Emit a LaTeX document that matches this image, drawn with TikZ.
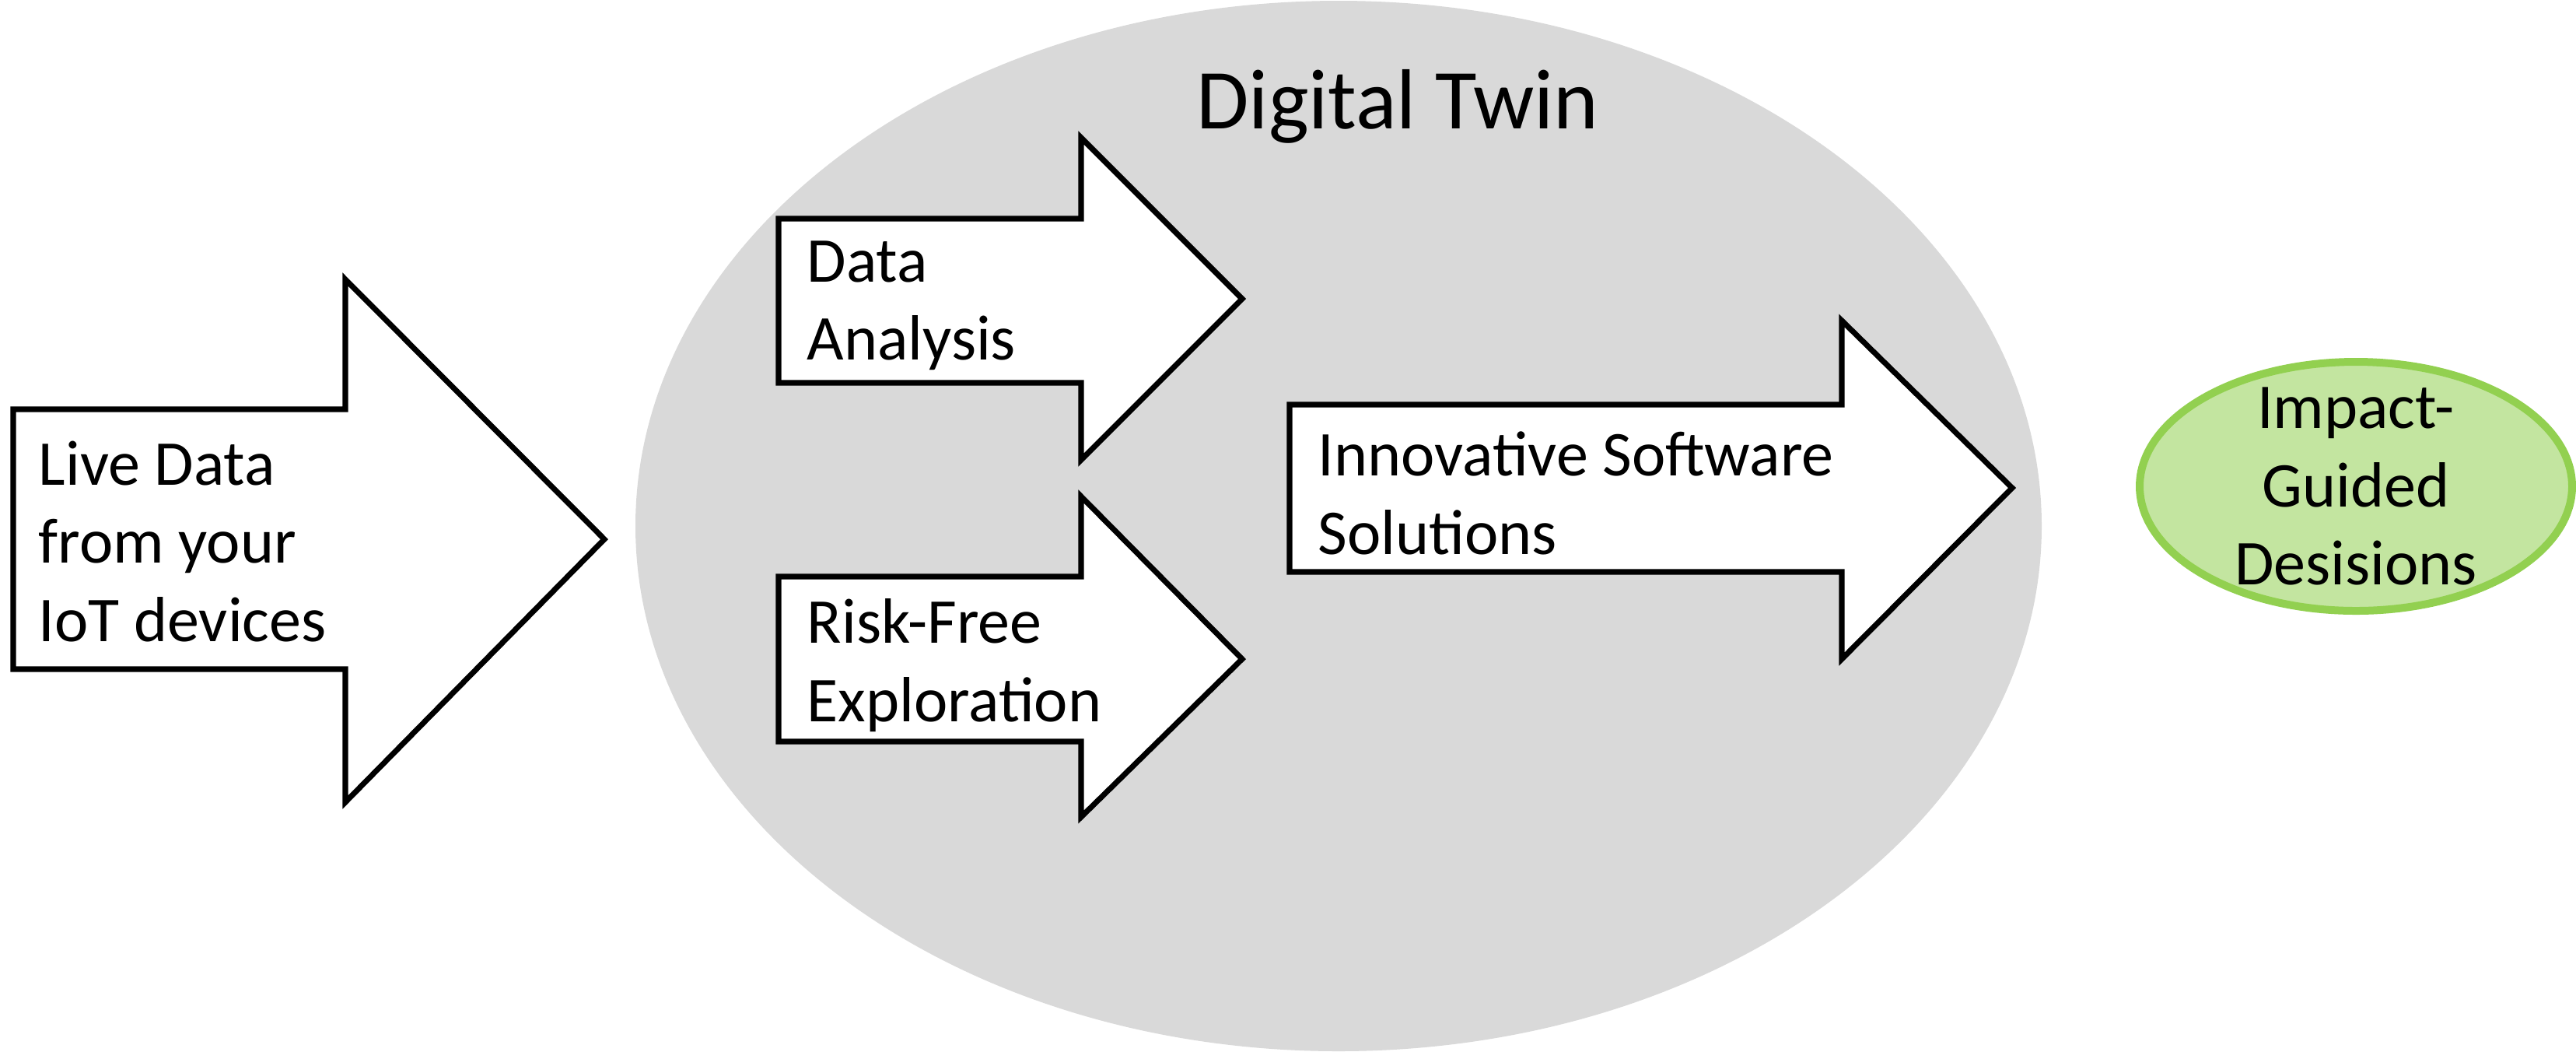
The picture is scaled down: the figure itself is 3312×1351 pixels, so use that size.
\documentclass[tikz,border=0pt]{standalone}
\usepackage{fontspec}
\setmainfont{Carlito}
\definecolor{twingrey}{HTML}{D9D9D9}
\definecolor{impfill}{HTML}{C3E5A0}
\definecolor{impdraw}{HTML}{92D050}
\tikzset{
  arrowshape/.style={draw=black, fill=white, line width=1.7pt, line join=miter},
  lbl/.style={font=\fontsize{19.7}{24.1}\selectfont, align=left, anchor=west, inner sep=0pt},
}
\begin{document}
\begin{tikzpicture}[x=0.24pt,y=-0.24pt]
\useasboundingbox (0,0) rectangle (3312,1351);
% Digital twin ellipse
\fill[twingrey] (1721,676) ellipse [x radius=904, y radius=675];
\node[font=\fontsize{26.3}{31}\selectfont, inner sep=0pt] (dt) at (1797,137) {Digital Twin};
% Live data arrow
\draw[arrowshape] (17,526) -- (444,526) -- (444,359) -- (777,693) -- (444,1031) -- (444,860) -- (17,860) -- cycle;
\node[lbl] (live) at (49,696) {Live Data\\from your\\IoT devices};
% Data analysis arrow
\draw[arrowshape] (1001,281) -- (1390,281) -- (1390,177) -- (1597,384) -- (1390,591) -- (1390,492) -- (1001,492) -- cycle;
\node[lbl] (da) at (1037,393) {Data\\Analysis};
% Risk-free arrow
\draw[arrowshape] (1001,741) -- (1390,741) -- (1390,638) -- (1597,847) -- (1390,1050) -- (1390,953) -- (1001,953) -- cycle;
\node[lbl] (rf) at (1037,855) {Risk-Free\\Exploration};
% Innovative software arrow
\draw[arrowshape] (1658,520) -- (2368,520) -- (2368,412) -- (2587,627) -- (2368,847) -- (2368,735) -- (1658,735) -- cycle;
\node[lbl] (iss) at (1694,634) {Innovative Software\\Solutions};
% Impact-guided decisions
\draw[fill=impfill, draw=impdraw, line width=2.4pt] (3029,625) ellipse [x radius=278, y radius=160];
\node[font=\fontsize{19.7}{24.1}\selectfont, align=center, inner sep=0pt] (igd) at (3029,625) {Impact-\\Guided\\Desisions};
\end{tikzpicture}
\end{document}
